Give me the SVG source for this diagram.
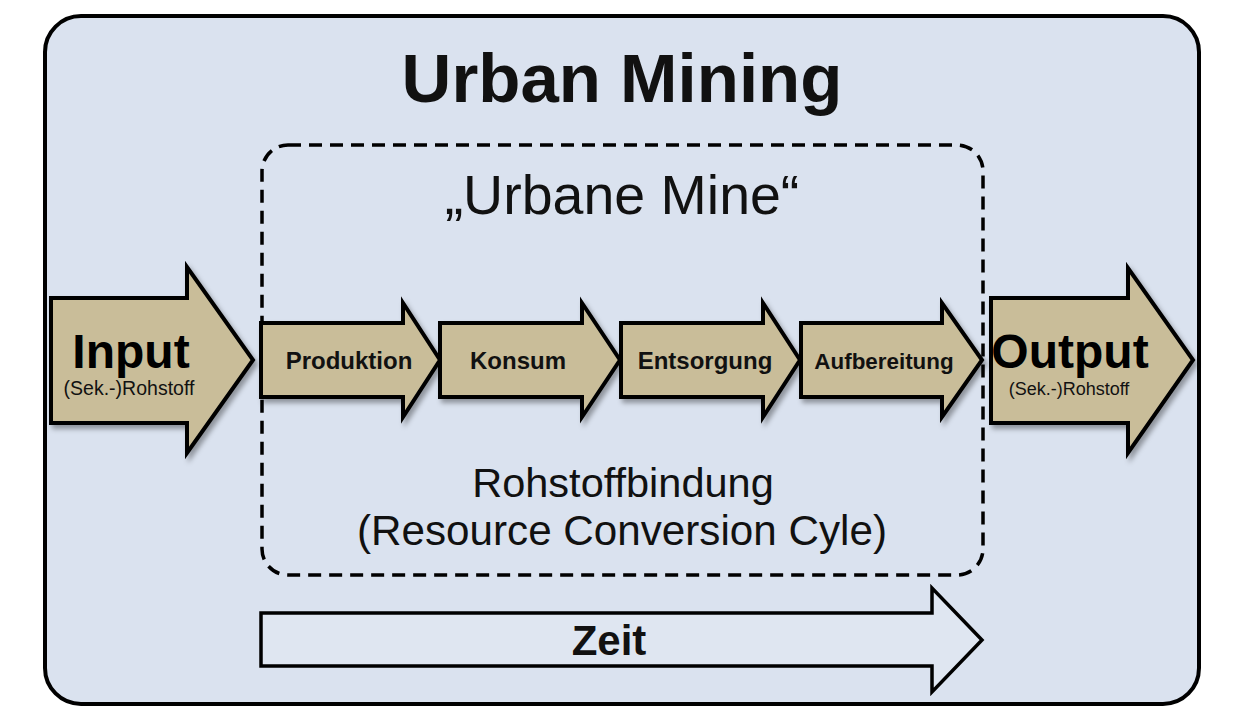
<svg xmlns="http://www.w3.org/2000/svg" width="1258" height="716" viewBox="0 0 1258 716">
  <defs>
    <filter id="shadow" x="-10%" y="-10%" width="130%" height="130%">
      <feDropShadow dx="3" dy="4" stdDeviation="2.5" flood-color="#000" flood-opacity="0.35"/>
    </filter>
  </defs>
  <style>
    .arrow { fill: #c9bd99; stroke: #000; stroke-width: 4; stroke-linejoin: miter; filter: url(#shadow); }
    .step { font-family: "Liberation Sans", Arial, sans-serif; font-weight: bold; fill: #111; text-anchor: middle; }
    .big { font-family: "Liberation Sans", Arial, sans-serif; font-weight: bold; font-size: 48px; fill: #000; text-anchor: middle; }
    .sub { font-family: "Liberation Sans", Arial, sans-serif; fill: #111; text-anchor: middle; }
    .reg { font-family: "Liberation Sans", Arial, sans-serif; fill: #111; text-anchor: middle; }
  </style>
  <rect width="1258" height="716" fill="#ffffff"/>
  <g id="frame">
    <rect x="45" y="16" width="1154" height="688" rx="36" ry="36" fill="#dae2ef" stroke="#000" stroke-width="4"/>
    <text x="622" y="102" class="reg" font-size="69" font-weight="bold" fill="#000">Urban Mining</text>
  </g>
  <g id="urbane-mine">
    <rect x="262" y="145" width="721" height="430" rx="26" ry="26" fill="none" stroke="#000" stroke-width="3.5" stroke-dasharray="13 8"/>
    <text x="622" y="214" class="reg" font-size="55.5">„Urbane Mine“</text>
    <text x="623" y="497" class="reg" font-size="41.5">Rohstoffbindung</text>
    <text x="622" y="545" class="reg" font-size="42.2">(Resource Conversion Cyle)</text>
  </g>
  <g id="input">
    <polygon class="arrow" points="51,298 187,298 187,267 253,360 187,453 187,423 51,423"/>
    <text x="131" y="368" class="big">Input</text>
    <text x="129" y="395" class="sub" font-size="19.5">(Sek.-)Rohstoff</text>
  </g>
  <g id="produktion">
    <polygon class="arrow" points="261,323 403,323 403,303 440,360 403,417 403,397 261,397"/>
    <text x="349" y="369" class="step" font-size="24">Produktion</text>
  </g>
  <g id="konsum">
    <polygon class="arrow" points="440,323 582,323 582,303 620,360 582,417 582,397 440,397"/>
    <text x="518" y="369" class="step" font-size="24">Konsum</text>
  </g>
  <g id="entsorgung">
    <polygon class="arrow" points="621,323 763,323 763,303 800,360 763,417 763,397 621,397"/>
    <text x="705" y="369" class="step" font-size="24">Entsorgung</text>
  </g>
  <g id="aufbereitung">
    <polygon class="arrow" points="801,323 942,323 942,303 982,360 942,417 942,397 801,397"/>
    <text x="884" y="369" class="step" font-size="22.4">Aufbereitung</text>
  </g>
  <g id="output">
    <polygon class="arrow" points="991,298 1128,298 1128,268 1193,360 1128,453 1128,423 991,423"/>
    <text x="1070" y="368" class="big">Output</text>
    <text x="1069" y="395" class="sub" font-size="18">(Sek.-)Rohstoff</text>
  </g>
  <g id="zeit">
    <polygon points="261,613 932,613 932,588 982,640 932,692 932,666 261,666" fill="#dfe6f1" stroke="#000" stroke-width="3.5"/>
    <text x="609" y="655" class="reg" font-size="42" font-weight="bold" fill="#000">Zeit</text>
  </g>
  <g id="connectors"></g>
</svg>
